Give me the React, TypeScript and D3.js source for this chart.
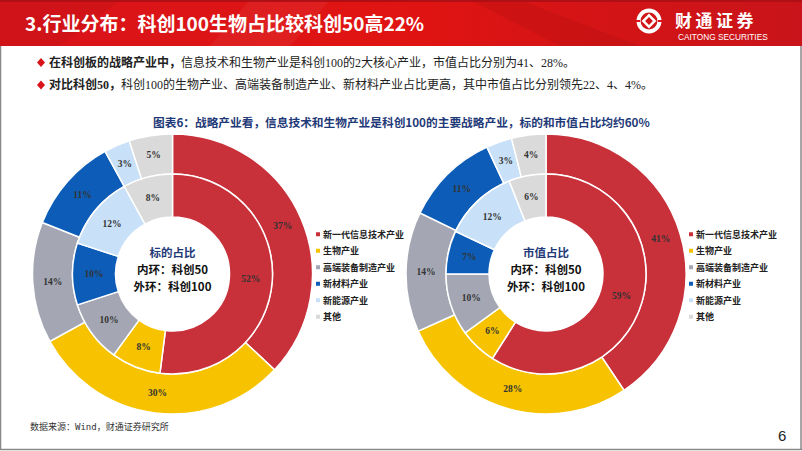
import React from 'react';
import * as d3 from 'd3';

const categories = ['新一代信息技术产业', '生物产业', '高端装备制造产业', '新材料产业', '新能源产业', '其他'];
const leftInner = [52, 8, 10, 10, 12, 8];
const leftOuter = [37, 30, 14, 11, 3, 5];
const rightInner = [59, 6, 10, 7, 12, 6];
const rightOuter = [41, 28, 14, 11, 3, 4];
const colors = ['#C8303A', '#F7C300', '#A4A7B3', '#0D5DB8', '#C9E1F8', '#DADADA'];

const W = 802;
const H = 451;
const CJK = '"Noto Sans CJK SC", "Noto Sans", sans-serif';
const MIX = '"Liberation Serif", "Noto Sans CJK SC", serif';

type DonutProps = { cx: number; cy: number; inner: number[]; outer: number[]; title: string };

function Donut({ cx, cy, inner, outer, title }: DonutProps) {
  const pie = d3.pie<number>().sort(null).value((d) => d);
  const innerArc = d3.arc<d3.PieArcDatum<number>>().innerRadius(57).outerRadius(100);
  const outerArc = d3.arc<d3.PieArcDatum<number>>().innerRadius(100).outerRadius(140);
  const rings = [
    { arcs: pie(outer), arc: outerArc, key: 'o' },
    { arcs: pie(inner), arc: innerArc, key: 'i' },
  ];
  return (
    <g transform={`translate(${cx},${cy})`}>
      {rings.map((r) =>
        r.arcs.map((a, i) => (
          <path key={r.key + i} d={r.arc(a) || ''} fill={colors[i]} stroke="#fff" strokeWidth={1.5} />
        ))
      )}
      {rings.map((r) =>
        r.arcs.map((a, i) => {
          const [x, y] = r.arc.centroid(a);
          return (
            <text
              key={'t' + r.key + i}
              x={x}
              y={y}
              textAnchor="middle"
              dominantBaseline="central"
              fontFamily='"Liberation Serif", "Times New Roman", serif'
              fontWeight="bold"
              fontSize={9.5}
              fill="#333"
            >
              {a.data}%
            </text>
          );
        })
      )}
      <text x={0} y={-22} textAnchor="middle" dominantBaseline="central" fontFamily={CJK} fontWeight="bold" fontSize={11.5} fill="#1F3A78">
        {title}
      </text>
      <text x={0} y={-5} textAnchor="middle" dominantBaseline="central" fontFamily={CJK} fontWeight="bold" fontSize={11.5} fill="#111">
        内环：科创50
      </text>
      <text x={0} y={12} textAnchor="middle" dominantBaseline="central" fontFamily={CJK} fontWeight="bold" fontSize={11.5} fill="#111">
        外环：科创100
      </text>
    </g>
  );
}

function Legend({ x, y }: { x: number; y: number }) {
  const ly = d3.scaleBand<string>().domain(categories).range([0, 99]);
  return (
    <g transform={`translate(${x},${y})`}>
      {categories.map((c, i) => (
        <g key={c} transform={`translate(0,${(ly(c) || 0) + ly.bandwidth() / 2})`}>
          <rect x={-2} y={-2} width={4} height={4} fill={colors[i]} />
          <text x={5} y={0} dominantBaseline="central" fontFamily={CJK} fontWeight="bold" fontSize={9} fill="#222">
            {c}
          </text>
        </g>
      ))}
    </g>
  );
}

export default function App() {
  return (
    <svg width={W} height={H} style={{ position: 'fixed', left: 0, top: 0, background: '#fff' }}>
      <defs>
        <linearGradient id="hdr" x1="0" y1="0" x2="1" y2="0">
          <stop offset="0" stopColor="#D8141A" />
          <stop offset="0.5" stopColor="#E01412" />
          <stop offset="1" stopColor="#C8141A" />
        </linearGradient>
      </defs>
      <rect x={0} y={0} width={W} height={46} fill="url(#hdr)" />
      <polygon points="250,0 330,0 290,46 210,46" fill="#ffffff" opacity={0.05} />
      <polygon points="520,0 640,46 560,46 470,0" fill="#000000" opacity={0.05} />
      <polygon points="0,0 120,0 60,46 0,46" fill="#000" opacity={0.04} />
      <rect x={0} y={0} width={W} height={2} fill="#B01015" />
      <text x={25} y={31} fontFamily={CJK} fontWeight="bold" fontSize={19} fill="#fff">
        3.行业分布：科创100生物占比较科创50高22%
      </text>
      {/* logo */}
      <g transform="translate(649,21)">
        <circle r={10.5} fill="none" stroke="#fff" strokeWidth={4} />
        <rect x={-4} y={-4} width={8} height={8} fill="none" stroke="#fff" strokeWidth={2.5} transform="rotate(45)" />
        <line x1={-13} y1={0} x2={-9} y2={0} stroke="#D8141A" strokeWidth={2} />
        <line x1={9} y1={0} x2={13} y2={0} stroke="#D8141A" strokeWidth={2} />
      </g>
      <text x={675} y={27} fontFamily={CJK} fontWeight="bold" fontSize={17} letterSpacing={3.5} fill="#fff">
        财通证券
      </text>
      <text x={678} y={40} fontFamily='"Liberation Sans", Arial, sans-serif' fontSize={8.3} fill="#fff">
        CAITONG SECURITIES
      </text>
      {/* frame */}
      <line x1={0.5} y1={46} x2={0.5} y2={449.5} stroke="#888" strokeWidth={1.5} />
      <line x1={801} y1={46} x2={801} y2={449.5} stroke="#888" strokeWidth={1.5} />
      <line x1={0} y1={449.5} x2={W} y2={449.5} stroke="#888" strokeWidth={1.5} />
      {/* bullets */}
      <polygon points="41,58 45,62.5 41,67 37,62.5" fill="#D8141A" />
      <text x={49} y={63} dominantBaseline="central" fontFamily={MIX} fontSize={12} fill="#222">
        <tspan fontWeight="bold">在科创板的战略产业中，</tspan>
        <tspan>信息技术和生物产业是科创100的2大核心产业，市值占比分别为41、28%。</tspan>
      </text>
      <polygon points="41,80.5 45,85 41,89.5 37,85" fill="#D8141A" />
      <text x={49} y={85} dominantBaseline="central" fontFamily={MIX} fontSize={12} fill="#222">
        <tspan fontWeight="bold">对比科创50，</tspan>
        <tspan>科创100的生物产业、高端装备制造产业、新材料产业占比更高，其中市值占比分别领先22、4、4%。</tspan>
      </text>
      <text x={153} y={121} dominantBaseline="central" fontFamily={CJK} fontWeight="bold" fontSize={11.7} fill="#1F3A78">
        图表6：战略产业看，信息技术和生物产业是科创100的主要战略产业，标的和市值占比均约60%
      </text>
      <Donut cx={172.5} cy={274} inner={leftInner} outer={leftOuter} title="标的占比" />
      <Donut cx={546} cy={274} inner={rightInner} outer={rightOuter} title="市值占比" />
      <Legend x={318} y={226} />
      <Legend x={691} y={226} />
      <text x={30} y={427} dominantBaseline="central" fontFamily='"DejaVu Sans Mono", "Noto Sans CJK SC", monospace' fontSize={9} fill="#333">
        数据来源：Wind，财通证券研究所
      </text>
      <text x={778} y={441} fontFamily='"Liberation Sans", Arial, sans-serif' fontSize={15} fill="#222">
        6
      </text>
    </svg>
  );
}
